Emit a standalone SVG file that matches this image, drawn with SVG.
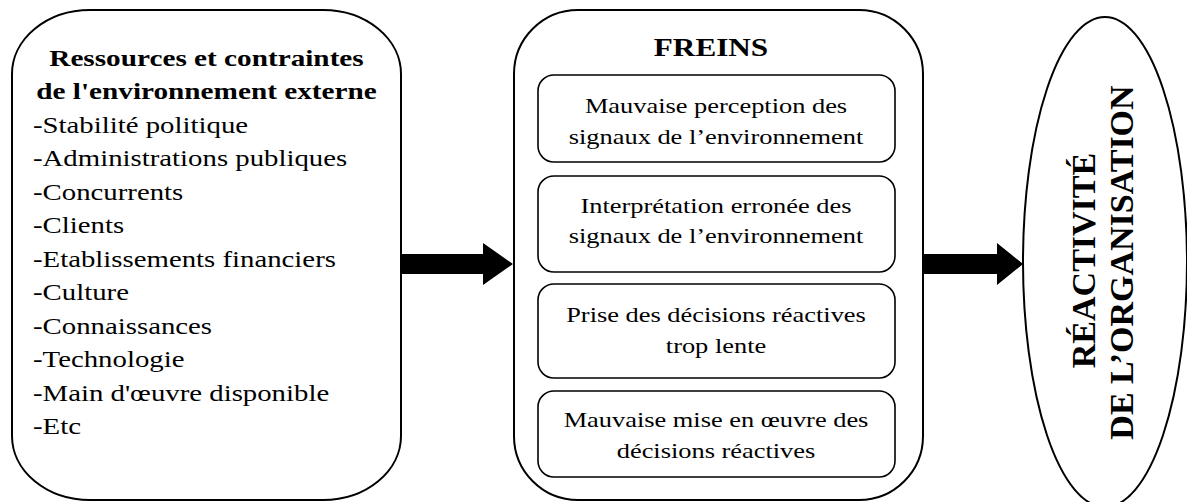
<svg xmlns="http://www.w3.org/2000/svg" width="1187" height="502" viewBox="0 0 1187 502">
  <style>
    .box { fill: #fff; stroke: #000; stroke-width: 2; }
    .inner { fill: #fff; stroke: #000; stroke-width: 1.6; }
    .t { font-family: "Liberation Serif", "Times New Roman", serif; fill: #000; }
    .title { font-weight: bold; font-size: 22.5px; }
    .item { font-size: 22.5px; }
    .frein { font-size: 22px; text-anchor: middle; }
    .big { font-weight: bold; font-size: 26px; text-anchor: middle; }
    .vert { font-weight: bold; font-size: 34px; text-anchor: middle; }
    .arrow { fill: #000; stroke: none; }
  </style>
  <rect width="1187" height="502" fill="#fff"/>

  <!-- External environment box -->
  <g id="environnement">
    <rect class="box" x="12" y="10" width="389" height="490" rx="78" ry="64"/>
    <g class="t title" text-anchor="middle">
      <text transform="translate(206.5,65.5) scale(1.3,1)">Ressources et contraintes</text>
      <text transform="translate(206.5,99) scale(1.3,1)">de l'environnement externe</text>
    </g>
    <g class="t item">
      <text transform="translate(33,132.5) scale(1.28,1)">-Stabilité politique</text>
      <text transform="translate(33,166) scale(1.28,1)">-Administrations publiques</text>
      <text transform="translate(33,199.5) scale(1.28,1)">-Concurrents</text>
      <text transform="translate(33,233) scale(1.28,1)">-Clients</text>
      <text transform="translate(33,266.5) scale(1.28,1)">-Etablissements financiers</text>
      <text transform="translate(33,300) scale(1.28,1)">-Culture</text>
      <text transform="translate(33,333.5) scale(1.28,1)">-Connaissances</text>
      <text transform="translate(33,367) scale(1.28,1)">-Technologie</text>
      <text transform="translate(33,400.5) scale(1.28,1)">-Main d'œuvre disponible</text>
      <text transform="translate(33,434) scale(1.28,1)">-Etc</text>
    </g>
  </g>

  <!-- Obstacles box -->
  <g id="freins">
    <rect class="box" x="514" y="10" width="409" height="490" rx="64" ry="64"/>
    <text class="t big" transform="translate(711,56) scale(1.2,1)">FREINS</text>
  </g>

  <g id="frein-perception">
    <rect class="inner" x="538" y="75" width="357" height="87" rx="16"/>
    <text class="t frein" transform="translate(716,113) scale(1.2,1)">Mauvaise perception des</text>
    <text class="t frein" transform="translate(716,144) scale(1.2,1)">signaux de l’environnement</text>
  </g>

  <g id="frein-interpretation">
    <rect class="inner" x="538" y="176" width="357" height="96" rx="16"/>
    <text class="t frein" transform="translate(716,212.5) scale(1.2,1)">Interprétation erronée des</text>
    <text class="t frein" transform="translate(716,243) scale(1.2,1)">signaux de l’environnement</text>
  </g>

  <g id="frein-decision">
    <rect class="inner" x="538" y="284" width="357" height="94" rx="16"/>
    <text class="t frein" transform="translate(716,322) scale(1.2,1)">Prise des décisions réactives</text>
    <text class="t frein" transform="translate(716,353) scale(1.2,1)">trop lente</text>
  </g>

  <g id="frein-execution">
    <rect class="inner" x="538" y="391" width="357" height="86" rx="16"/>
    <text class="t frein" transform="translate(716,427) scale(1.2,1)">Mauvaise mise en œuvre des</text>
    <text class="t frein" transform="translate(716,458) scale(1.2,1)">décisions réactives</text>
  </g>

  <!-- Outcome ellipse -->
  <g id="reactivite">
    <ellipse class="box" cx="1105" cy="262" rx="82" ry="245" stroke-width="1.6"/>
    <text class="t vert" transform="translate(1095,260.5) rotate(-90)">RÉACTIVITÉ</text>
    <text class="t vert" transform="translate(1133,262.5) rotate(-90)">DE L’ORGANISATION</text>
  </g>

  <!-- Block arrows -->
  <g id="connecteurs">
    <polygon class="arrow" points="401,254 483,254 483,243 513,264 483,285 483,274 401,274"/>
    <polygon class="arrow" points="923,254 997,254 997,243 1023,264 997,285 997,274 923,274"/>
  </g>
</svg>
